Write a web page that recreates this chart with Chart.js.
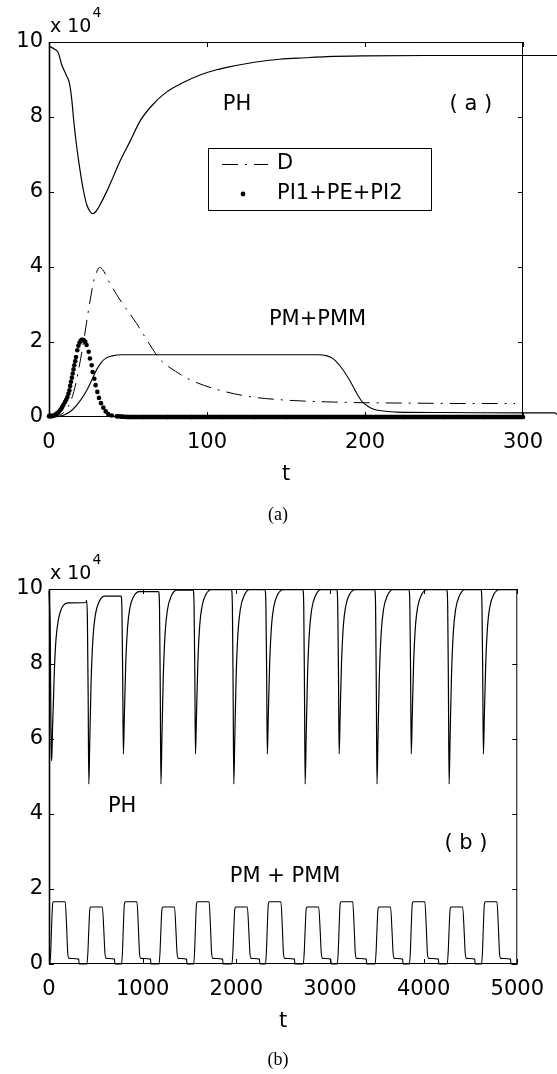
<!DOCTYPE html>
<html><head><meta charset="utf-8">
<script src="https://cdn.jsdelivr.net/npm/chart.js@4.4.1/dist/chart.umd.min.js"></script>
<style>
html,body{margin:0;padding:0;background:#fff;}
#wrap{position:relative;width:557px;height:1074px;overflow:hidden;}
canvas{position:absolute;left:0;}
#c1{top:0;width:557px;height:530px;}
#c2{top:530px;width:557px;height:544px;}
</style></head><body>
<div id="wrap"><canvas id="c1" width="557" height="530"></canvas><canvas id="c2" width="557" height="544"></canvas></div>
<script>
// ---------- DATA (values in units of 10^4) ----------
// panel (a)
const xTicksA = [0, 100, 200, 300];
const yTicks = [0, 2, 4, 6, 8, 10];

const phT = [0, 3.8, 5.9, 8, 11.2, 12.9, 14.4, 15.8, 17.5, 19.6, 21.7, 23.9, 26, 27.6, 29.7, 32.3, 36.5, 40.7, 44.9, 51.3, 57.6, 65, 74.5, 85, 95.6, 106, 116.6, 130, 146, 162, 176, 200, 240, 300, 322];
const phV = [9.89, 9.80, 9.71, 9.40, 9.09, 8.91, 8.47, 7.84, 7.22, 6.59, 6.06, 5.66, 5.48, 5.42, 5.48, 5.66, 6.01, 6.41, 6.82, 7.35, 7.89, 8.30, 8.67, 8.92, 9.12, 9.26, 9.36, 9.46, 9.54, 9.58, 9.61, 9.63, 9.64, 9.64, 9.64];

const dT = [0, 5, 10, 14, 17, 20, 22.4, 24.3, 26, 28, 30, 32, 34, 38.6, 45, 55.5, 62, 70, 80, 90, 105, 126, 150, 171, 200, 230, 260, 295];
const dV = [0.0, 0.03, 0.15, 0.45, 0.9, 1.55, 2.14, 2.67, 3.1, 3.57, 3.85, 3.99, 3.93, 3.56, 3.12, 2.49, 2.05, 1.55, 1.22, 0.98, 0.75, 0.55, 0.45, 0.41, 0.38, 0.37, 0.36, 0.36];

const piT = [0, 0.6, 1.5, 2.7, 3.8, 4.9, 6, 7, 7.8, 8.4, 9.2, 10.1, 10.9, 11.6, 12.3, 12.9, 13.4, 13.9, 14.5, 15.0, 15.5, 16.0, 16.6, 17.1, 17.9, 18.6, 19.3, 20.0, 20.7, 21.4, 22.2, 23.0, 23.8, 25.1, 25.9, 27.0, 27.6, 28.7, 29.5, 30.6, 31.6, 32.9, 34.4, 35.9, 37.5, 39.7, 42.8, 46, 50, 60, 75, 90, 110, 130, 150, 175, 200, 225, 250, 275, 300];
const piV = [0.02, 0.03, 0.03, 0.03, 0.06, 0.09, 0.13, 0.18, 0.22, 0.27, 0.33, 0.40, 0.46, 0.53, 0.62, 0.71, 0.83, 0.94, 1.05, 1.16, 1.27, 1.38, 1.49, 1.60, 1.78, 1.90, 1.98, 2.03, 2.06, 2.06, 2.04, 2.00, 1.92, 1.74, 1.56, 1.38, 1.20, 1.02, 0.85, 0.67, 0.51, 0.37, 0.25, 0.15, 0.08, 0.04, 0.02, 0.01, 0, 0, 0, 0, 0, 0, 0, 0, 0, 0, 0, 0, 0];

const pmT = [0, 5, 10, 15, 20, 24, 27, 30, 33, 36, 40, 46, 100, 170, 176, 180, 185, 190, 194, 198, 202, 206, 212, 220, 250, 300, 320, 323];
const pmV = [0, 0.01, 0.06, 0.2, 0.45, 0.72, 0.98, 1.25, 1.45, 1.57, 1.63, 1.66, 1.66, 1.66, 1.63, 1.55, 1.32, 1.0, 0.69, 0.42, 0.28, 0.2, 0.16, 0.13, 0.12, 0.11, 0.11, 0];

// panel (b)
const xTicksB = [0, 1000, 2000, 3000, 4000, 5000];

const phbT = [0, 8, 13, 16, 20, 24, 28, 32, 38, 45, 53, 60, 75, 96, 117, 146, 176, 210, 395, 402,
  410, 418, 425, 435, 450, 470, 495, 535, 595,
  769, 779, 787, 794, 804, 819, 839, 864, 904, 964,
  1170, 1180, 1188, 1195, 1205, 1220, 1240, 1265, 1305, 1365,
  1539, 1549, 1557, 1564, 1574, 1589, 1609, 1634, 1674, 1734,
  1948, 1958, 1966, 1973, 1983, 1998, 2018, 2043, 2083, 2143,
  2306, 2316, 2324, 2331, 2341, 2356, 2376, 2401, 2441, 2501,
  2710, 2720, 2728, 2735, 2745, 2760, 2780, 2805, 2845, 2905,
  3073, 3083, 3091, 3098, 3108, 3123, 3143, 3168, 3208, 3268,
  3477, 3487, 3495, 3502, 3512, 3527, 3547, 3572, 3612, 3672,
  3843, 3853, 3861, 3868, 3878, 3893, 3913, 3938, 3978, 4038,
  4247, 4257, 4265, 4272, 4282, 4297, 4317, 4342, 4382, 4442,
  4613, 4623, 4631, 4638, 4648, 4663, 4683, 4708, 4748, 4808,
  5000];
const phbV = [9.95, 9.4, 8.9, 7.8, 6.6, 5.7, 5.42, 5.66, 6.3, 6.85, 7.5, 8.0, 8.67, 9.12, 9.36, 9.54, 9.61, 9.63, 9.64, 9.70,
  9.2, 7.2, 4.8, 5.9, 7.56, 8.71, 9.31, 9.66, 9.81,
  9.81, 9.4, 7.6, 5.6, 6.55, 7.98, 8.98, 9.50, 9.80, 9.93,
  9.93, 9.5, 7.3, 4.8, 5.94, 7.64, 8.83, 9.45, 9.81, 9.97,
  9.97, 9.55, 7.7, 5.6, 6.56, 8.01, 9.02, 9.54, 9.85, 9.98,
  9.98, 9.55, 7.3, 4.8, 5.94, 7.65, 8.84, 9.46, 9.82, 9.98,
  9.98, 9.55, 7.7, 5.6, 6.56, 8.01, 9.02, 9.54, 9.85, 9.98,
  9.98, 9.55, 7.3, 4.8, 5.94, 7.65, 8.84, 9.46, 9.82, 9.98,
  9.98, 9.55, 7.7, 5.6, 6.56, 8.01, 9.02, 9.54, 9.85, 9.98,
  9.98, 9.55, 7.3, 4.8, 5.94, 7.65, 8.84, 9.46, 9.82, 9.98,
  9.98, 9.55, 7.7, 5.6, 6.56, 8.01, 9.02, 9.54, 9.85, 9.98,
  9.98, 9.55, 7.3, 4.8, 5.94, 7.65, 8.84, 9.46, 9.82, 9.98,
  9.98, 9.55, 7.7, 5.6, 6.56, 8.01, 9.02, 9.54, 9.85, 9.98,
  9.98];

const pmbT = [0, 8, 18, 28, 38, 48, 173, 188, 200, 213, 318, 322,
  405, 415, 425, 435, 445, 570, 585, 597, 610, 699, 703,
  774, 784, 794, 804, 814, 939, 954, 966, 979, 1084, 1088,
  1175, 1185, 1195, 1205, 1215, 1340, 1355, 1367, 1380, 1469, 1473,
  1544, 1554, 1564, 1574, 1584, 1709, 1724, 1736, 1749, 1854, 1858,
  1953, 1963, 1973, 1983, 1993, 2118, 2133, 2145, 2158, 2247, 2251,
  2311, 2321, 2331, 2341, 2351, 2476, 2491, 2503, 2516, 2621, 2625,
  2715, 2725, 2735, 2745, 2755, 2880, 2895, 2907, 2920, 3009, 3013,
  3078, 3088, 3098, 3108, 3118, 3243, 3258, 3270, 3283, 3388, 3392,
  3482, 3492, 3502, 3512, 3522, 3647, 3662, 3674, 3687, 3776, 3780,
  3848, 3858, 3868, 3878, 3888, 4013, 4028, 4040, 4053, 4158, 4162,
  4252, 4262, 4272, 4282, 4292, 4417, 4432, 4444, 4457, 4546, 4550,
  4618, 4628, 4638, 4648, 4658, 4783, 4798, 4810, 4823, 4928, 4932,
  5000];
const pmbV = [0, 0, 0.3, 1.0, 1.58, 1.66, 1.66, 1.0, 0.3, 0.15, 0.13, 0,
  0, 0.3, 0.91, 1.44, 1.52, 1.52, 0.91, 0.3, 0.15, 0.13, 0,
  0, 0.3, 1.0, 1.58, 1.66, 1.66, 1.0, 0.3, 0.15, 0.13, 0,
  0, 0.3, 0.91, 1.44, 1.52, 1.52, 0.91, 0.3, 0.15, 0.13, 0,
  0, 0.3, 1.0, 1.58, 1.66, 1.66, 1.0, 0.3, 0.15, 0.13, 0,
  0, 0.3, 0.91, 1.44, 1.52, 1.52, 0.91, 0.3, 0.15, 0.13, 0,
  0, 0.3, 1.0, 1.58, 1.66, 1.66, 1.0, 0.3, 0.15, 0.13, 0,
  0, 0.3, 0.91, 1.44, 1.52, 1.52, 0.91, 0.3, 0.15, 0.13, 0,
  0, 0.3, 1.0, 1.58, 1.66, 1.66, 1.0, 0.3, 0.15, 0.13, 0,
  0, 0.3, 0.91, 1.44, 1.52, 1.52, 0.91, 0.3, 0.15, 0.13, 0,
  0, 0.3, 1.0, 1.58, 1.66, 1.66, 1.0, 0.3, 0.15, 0.13, 0,
  0, 0.3, 0.91, 1.44, 1.52, 1.52, 0.91, 0.3, 0.15, 0.13, 0,
  0, 0.3, 1.0, 1.58, 1.66, 1.66, 1.0, 0.3, 0.15, 0.13, 0,
  0];

// ---------- RENDERING ----------
const FONT = '"DejaVu Sans", "Liberation Sans", sans-serif';
const SERIF = '"Liberation Serif", "DejaVu Serif", serif';
Chart.defaults.font.family = FONT;
Chart.defaults.font.size = 21;
Chart.defaults.color = '#000';

const pts = (ts, vs) => ts.map((t, i) => ({x: t, y: vs[i]}));
const D_DASH = [16, 7, 2, 7];

const deco = {
  id: 'deco',
  afterDraw(chart, args, o) {
    const {ctx, chartArea: a, scales: {x, y}} = chart;
    ctx.save();
    ctx.strokeStyle = '#000';
    ctx.fillStyle = '#000';
    ctx.setLineDash([]);
    ctx.lineWidth = 1;
    ctx.beginPath();
    ctx.moveTo(a.left + 0.5, a.top + 0.5);
    ctx.lineTo(a.right - 0.5, a.top + 0.5);
    ctx.lineTo(a.right - 0.5, a.bottom - 0.5);
    ctx.lineTo(a.left + 0.5, a.bottom - 0.5);
    ctx.closePath();
    ctx.stroke();
    ctx.lineWidth = 1.6;
    ctx.beginPath();
    ctx.moveTo(a.left + 0.5, a.top); ctx.lineTo(a.left + 0.5, a.bottom);
    ctx.stroke();
    ctx.lineWidth = 1;
    const L = 5;
    ctx.beginPath();
    x.ticks.forEach(t => {
      const p = Math.round(x.getPixelForValue(t.value)) + 0.5;
      ctx.moveTo(p, a.bottom); ctx.lineTo(p, a.bottom - L);
      ctx.moveTo(p, a.top); ctx.lineTo(p, a.top + L);
    });
    y.ticks.forEach(t => {
      const p = Math.round(y.getPixelForValue(t.value)) + 0.5;
      ctx.moveTo(a.left, p); ctx.lineTo(a.left + L, p);
      ctx.moveTo(a.right, p); ctx.lineTo(a.right - L, p);
    });
    ctx.stroke();

    // exponent label
    ctx.textAlign = 'left';
    ctx.textBaseline = 'alphabetic';
    ctx.font = '19px ' + FONT;
    ctx.fillText('x 10', a.left + 1, a.top - 10);
    const w = ctx.measureText('x 10').width;
    ctx.font = '14px ' + FONT;
    ctx.fillText('4', a.left + 2 + w, a.top - 25);

    // in-plot notes
    ctx.font = '21px ' + FONT;
    ctx.textAlign = 'center';
    ctx.textBaseline = 'middle';
    (o.notes || []).forEach(n => ctx.fillText(n.text, x.getPixelForValue(n.x), y.getPixelForValue(n.y)));

    // caption below
    ctx.font = '18px ' + SERIF;
    ctx.fillText(o.caption, o.captionX, a.bottom + o.captionDy);

    // legend box
    if (o.legend) {
      const b = o.legend;
      ctx.lineWidth = 1;
      ctx.fillStyle = '#fff';
      ctx.fillRect(b.l + 1, b.t + 1, b.r - b.l - 1, b.b - b.t - 1);
      ctx.strokeRect(b.l + 0.5, b.t + 0.5, b.r - b.l, b.b - b.t);
      ctx.fillStyle = '#000';
      const ds = chart.data.datasets;
      ctx.setLineDash(D_DASH);
      ctx.beginPath();
      ctx.moveTo(b.l + 14, b.y1 + 0.5); ctx.lineTo(b.l + 60, b.y1 + 0.5);
      ctx.stroke();
      ctx.setLineDash([]);
      ctx.beginPath();
      ctx.arc(b.l + 35, b.y2, 2.4, 0, Math.PI * 2);
      ctx.fill();
      ctx.font = '21px ' + FONT;
      ctx.textAlign = 'left';
      ctx.fillText(ds[1].label, b.l + 69, b.y1);
      ctx.fillText(ds[2].label, b.l + 69, b.y2);
    }
    ctx.restore();
  }
};

function xScale(ticks, max, title) {
  return {
    type: 'linear',
    afterDataLimits: s => { s.min = 0; s.max = max; },
    afterBuildTicks: s => { s.ticks = ticks.map(v => ({value: v})); },
    afterFit: s => { s.height = 70; },
    grid: {display: false, drawTicks: false, tickLength: 0},
    border: {display: false},
    ticks: {padding: 13, autoSkip: false, maxRotation: 0, callback: v => String(v), color: '#000'},
    title: {display: true, text: title, color: '#000', padding: {top: 0, bottom: 0}, font: {size: 21}}
  };
}
function yScale() {
  return {
    type: 'linear', min: 0, max: 10,
    afterBuildTicks: s => { s.ticks = yTicks.map(v => ({value: v})); },
    afterFit: s => { s.width = 49; },
    grid: {display: false, drawTicks: false, tickLength: 0},
    border: {display: false},
    ticks: {padding: 6, callback: v => String(v), color: '#000'}
  };
}
const lineDs = (label, data, extra) => Object.assign({
  label, data, borderColor: '#000', backgroundColor: '#000', borderWidth: 1.2,
  pointRadius: 0, fill: false, clip: false, cubicInterpolationMode: 'monotone'
}, extra || {});

new Chart(document.getElementById('c1'), {
  type: 'line',
  data: {
    datasets: [
      lineDs('PH', pts(phT, phV)),
      lineDs('D', pts(dT, dV), {borderWidth: 1, borderDash: D_DASH}),
      lineDs('PI1+PE+PI2', pts(piT, piV), {
        pointRadius: 2.3, pointBorderWidth: 0, pointBackgroundColor: '#000',
        cubicInterpolationMode: 'default', tension: 0, borderWidth: 4.5,
        segment: {
          borderColor: c => (piV[c.p0DataIndex] <= 0.035 && piV[c.p1DataIndex] <= 0.035) ? '#000' : 'rgba(0,0,0,0)'
        }
      }),
      lineDs('PM+PMM', pts(pmT, pmV), {borderWidth: 1.1})
    ]
  },
  options: {
    responsive: false, animation: false, devicePixelRatio: 1, events: [],
    layout: {padding: {top: 42, left: 0, right: 34, bottom: 43}},
    elements: {line: {capBezierPoints: false}},
    scales: {x: xScale(xTicksA, 300, 't'), y: yScale()},
    plugins: {
      legend: {display: false}, tooltip: {enabled: false},
      deco: {
        notes: [{text: 'PH', x: 119, y: 8.33}, {text: '( a )', x: 267, y: 8.33}, {text: 'PM+PMM', x: 170, y: 2.61}],
        caption: '(a)', captionX: 278, captionDy: 98,
        legend: {l: 208, t: 148, r: 431, b: 210, y1: 164, y2: 194}
      }
    }
  },
  plugins: [deco]
});

new Chart(document.getElementById('c2'), {
  type: 'line',
  data: {
    datasets: [
      lineDs('PH', pts(phbT, phbV)),
      lineDs('PM + PMM', pts(pmbT, pmbV), {borderWidth: 1.1})
    ]
  },
  options: {
    responsive: false, animation: false, devicePixelRatio: 1, events: [],
    layout: {padding: {top: 59, left: 0, right: 34, bottom: 40}},
    elements: {line: {capBezierPoints: false}},
    scales: {x: xScale(xTicksB, 5000, 't'), y: yScale()},
    plugins: {
      legend: {display: false}, tooltip: {enabled: false},
      deco: {
        notes: [{text: 'PH', x: 781, y: 4.21}, {text: '( b )', x: 4452, y: 3.2}, {text: 'PM + PMM', x: 2521, y: 2.32}],
        caption: '(b)', captionX: 278, captionDy: 96
      }
    }
  },
  plugins: [deco]
});
</script>
</body></html>
